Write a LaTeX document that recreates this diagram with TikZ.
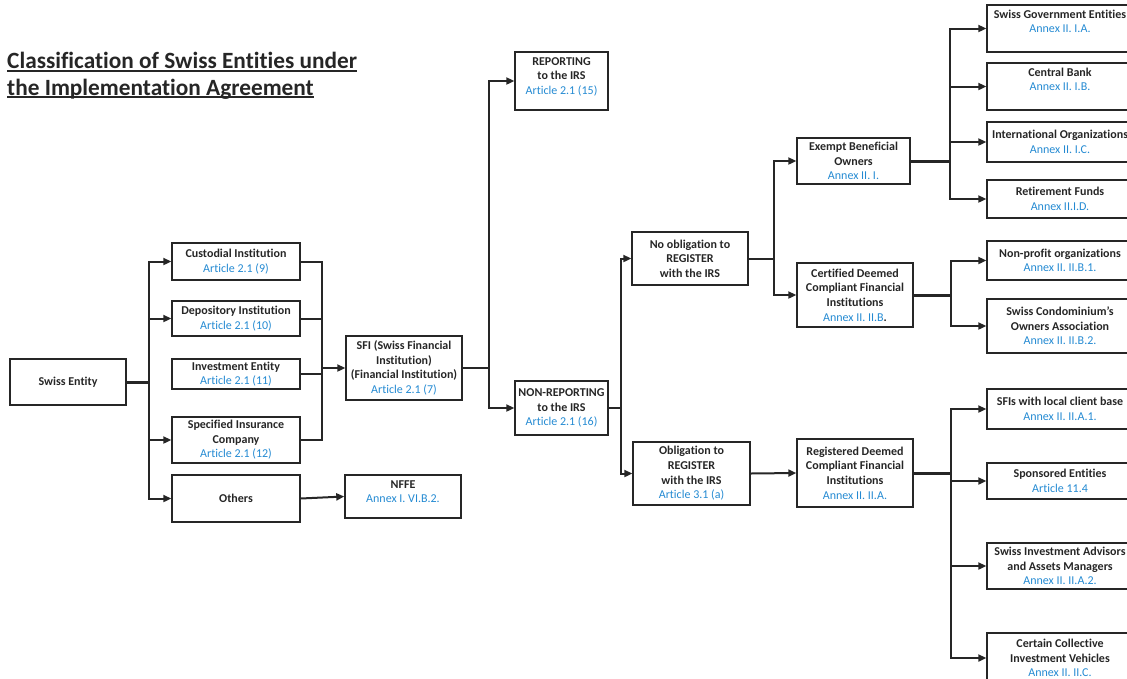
\documentclass[tikz,border=0pt]{standalone}
\usepackage{fontspec}
\setmainfont{Carlito}[Ligatures=NoCommon]
\usetikzlibrary{arrows.meta}
\definecolor{refblue}{RGB}{36,138,210}
\definecolor{ink}{RGB}{38,38,38}
\newcommand{\art}[1]{{\mdseries\color{refblue}#1}}
\newcommand{\titleline}[1]{\setbox0\hbox{#1}\rlap{\rule[-3pt]{\wd0}{1.9pt}}\box0}

\begin{document}
\begin{tikzpicture}[
		x=1pt, y=-1pt,
		every node/.style={font=\fontsize{12}{14.6}\selectfont\bfseries, text=ink, align=center},
		box/.style={draw=ink, line width=1.4pt, inner xsep=1pt, inner ysep=0pt},
		size/.style 2 args={minimum width=#1, minimum height=#2},
		link/.style={draw=ink, line width=2pt, line cap=rect},
		arr/.style={draw=ink, line width=2pt, -{Triangle[length=8pt,width=7pt]}},
		stub/.style={draw=ink, line width=3pt}
	]
  \useasboundingbox (0,0) rectangle (1127,678);
  \node (title) [anchor=north west, align=left, inner sep=0pt, font=\fontsize{23.3}{26.5}\selectfont\bfseries] at (7,52) {\titleline{Classification of Swiss Entities under}\\\titleline{the Implementation Agreement}};

  \node (swiss) [box, size={116}{46}] at (68,382) {Swiss Entity};
  \node (cust) [box, size={128}{37}] at (236,261.5) {Custodial Institution\\\art{Article 2.1 (9)}};
  \node (depo) [box, size={128}{35}] at (236,318.5) {Depository Institution\\\art{Article 2.1 (10)}};
  \node (inv) [box, size={128}{30}] at (236,374) {Investment Entity\\\art{Article 2.1 (11)}};
  \node (ins) [box, size={128}{46}] at (236,440) {Specified Insurance\\Company\\\art{Article 2.1 (12)}};
  \node (others) [box, size={128}{47}] at (236,498.5) {Others};

  \node (sfi) [box, size={116}{64}] at (404,368) {SFI (Swiss Financial\\Institution)\\(Financial Institution)\\\art{Article 2.1 (7)}};
  \node (nffe) [box, size={116}{43}] at (403,496.5) {NFFE\\\art{Annex I. VI.B.2.}\\[-4.6pt]~};
  \node (rep) [box, size={93}{58}] at (561.5,81) {REPORTING\\to the IRS\\\art{Article 2.1 (15)}\\[-4.6pt]~};
  \node (nonrep) [box, size={93}{54}] at (561.5,408) {NON-REPORTING\\to the IRS\\\art{Article 2.1 (16)}};

  \node (noreg) [box, size={116}{53}] at (690,258.5) {No obligation to\\REGISTER\\with the IRS};
  \node (oblreg) [box, size={117}{63}] at (691.5,473.5) {Obligation to\\REGISTER\\with the IRS\\\art{Article 3.1 (a)}};
  \node (ebo) [box, size={113}{46}] at (853.5,161) {Exempt Beneficial\\Owners\\\art{Annex II. I.}};
  \node (cdc) [box, size={116}{64}] at (855,295) {Certified Deemed\\Compliant Financial\\Institutions\\\art{Annex II. II.B}.};
  \node (rdc) [box, size={116}{68}] at (855,473) {Registered Deemed\\Compliant Financial\\Institutions\\\art{Annex II. II.A.}};

  \node (gov) [box, size={146}{47}] at (1060,28.5) {Swiss Government Entities\\\art{Annex II. I.A.}\\~};
  \node (cbank) [box, size={146}{47}] at (1060,86.5) {Central Bank\\\art{Annex II. I.B.}\\~};
  \node (intorg) [box, size={146}{40}] at (1060,142) {International Organizations\\\art{Annex II. I.C.}};
  \node (retire) [box, size={146}{38}] at (1060,199) {Retirement Funds\\\art{Annex II.I.D.}};
  \node (nonprofit) [box, size={146}{39}] at (1060,260.5) {Non-profit organizations\\\art{Annex II. II.B.1.}};
  \node (condo) [box, size={146}{54}] at (1060,326) {Swiss Condominium’s\\Owners Association\\\art{Annex II. II.B.2.}};
  \node (local) [box, size={146}{40}] at (1060,409) {SFIs with local client base\\\art{Annex II. II.A.1.}};
  \node (spons) [box, size={146}{36}] at (1060,481) {Sponsored Entities\\\art{Article 11.4}};
  \node (advis) [box, size={146}{46}] at (1060,566) {Swiss Investment Advisors\\and Assets Managers\\\art{Annex II. II.A.2.}};
  \node (civ) [box, size={146}{50}] at (1060,658) {Certain Collective\\Investment Vehicles\\\art{Annex II. II.C.}};

  \draw[stub] (swiss.east) -- ++(22,0) coordinate (s1);
  \foreach \n in {cust,depo,ins,others} \draw[arr] (s1) |- (\n.west);
  \coordinate (s2) at (322,368);
  \foreach \n in {cust,depo,inv,ins} \draw[link] (\n.east) -| (s2);
  \draw[arr] (s2) -- (sfi.west);
  \draw[arr] (others.east) -- (nffe.west);

  \draw[link] (sfi.east) -- ++(26,0) coordinate (s3);
  \draw[arr] (s3) |- (rep.west);
  \draw[arr] (s3) |- (nonrep.west);
  \draw[link] (nonrep.east) -- ++(12,0) coordinate (s4);
  \draw[arr] (s4) |- (noreg.west);
  \draw[arr] (s4) |- (oblreg.west);
  \draw[link] (noreg.east) -- ++(25,0) coordinate (s5);
  \draw[arr] (s5) |- (ebo.west);
  \draw[arr] (s5) |- (cdc.west);
  \draw[arr] (oblreg.east) -- (rdc.west);

  \draw[stub] (ebo.east) -- ++(39,0) coordinate (s6);
  \foreach \n in {gov,cbank,intorg,retire} \draw[arr] (s6) |- (\n.west);
  \draw[stub] (cdc.east) -- ++(37,0) coordinate (s7);
  \foreach \n in {nonprofit,condo} \draw[arr] (s7) |- (\n.west);
  \draw[stub] (rdc.east) -- ++(37,0) coordinate (s8);
  \foreach \n in {local,spons,advis,civ} \draw[arr] (s8) |- (\n.west);
\end{tikzpicture}
\end{document}
